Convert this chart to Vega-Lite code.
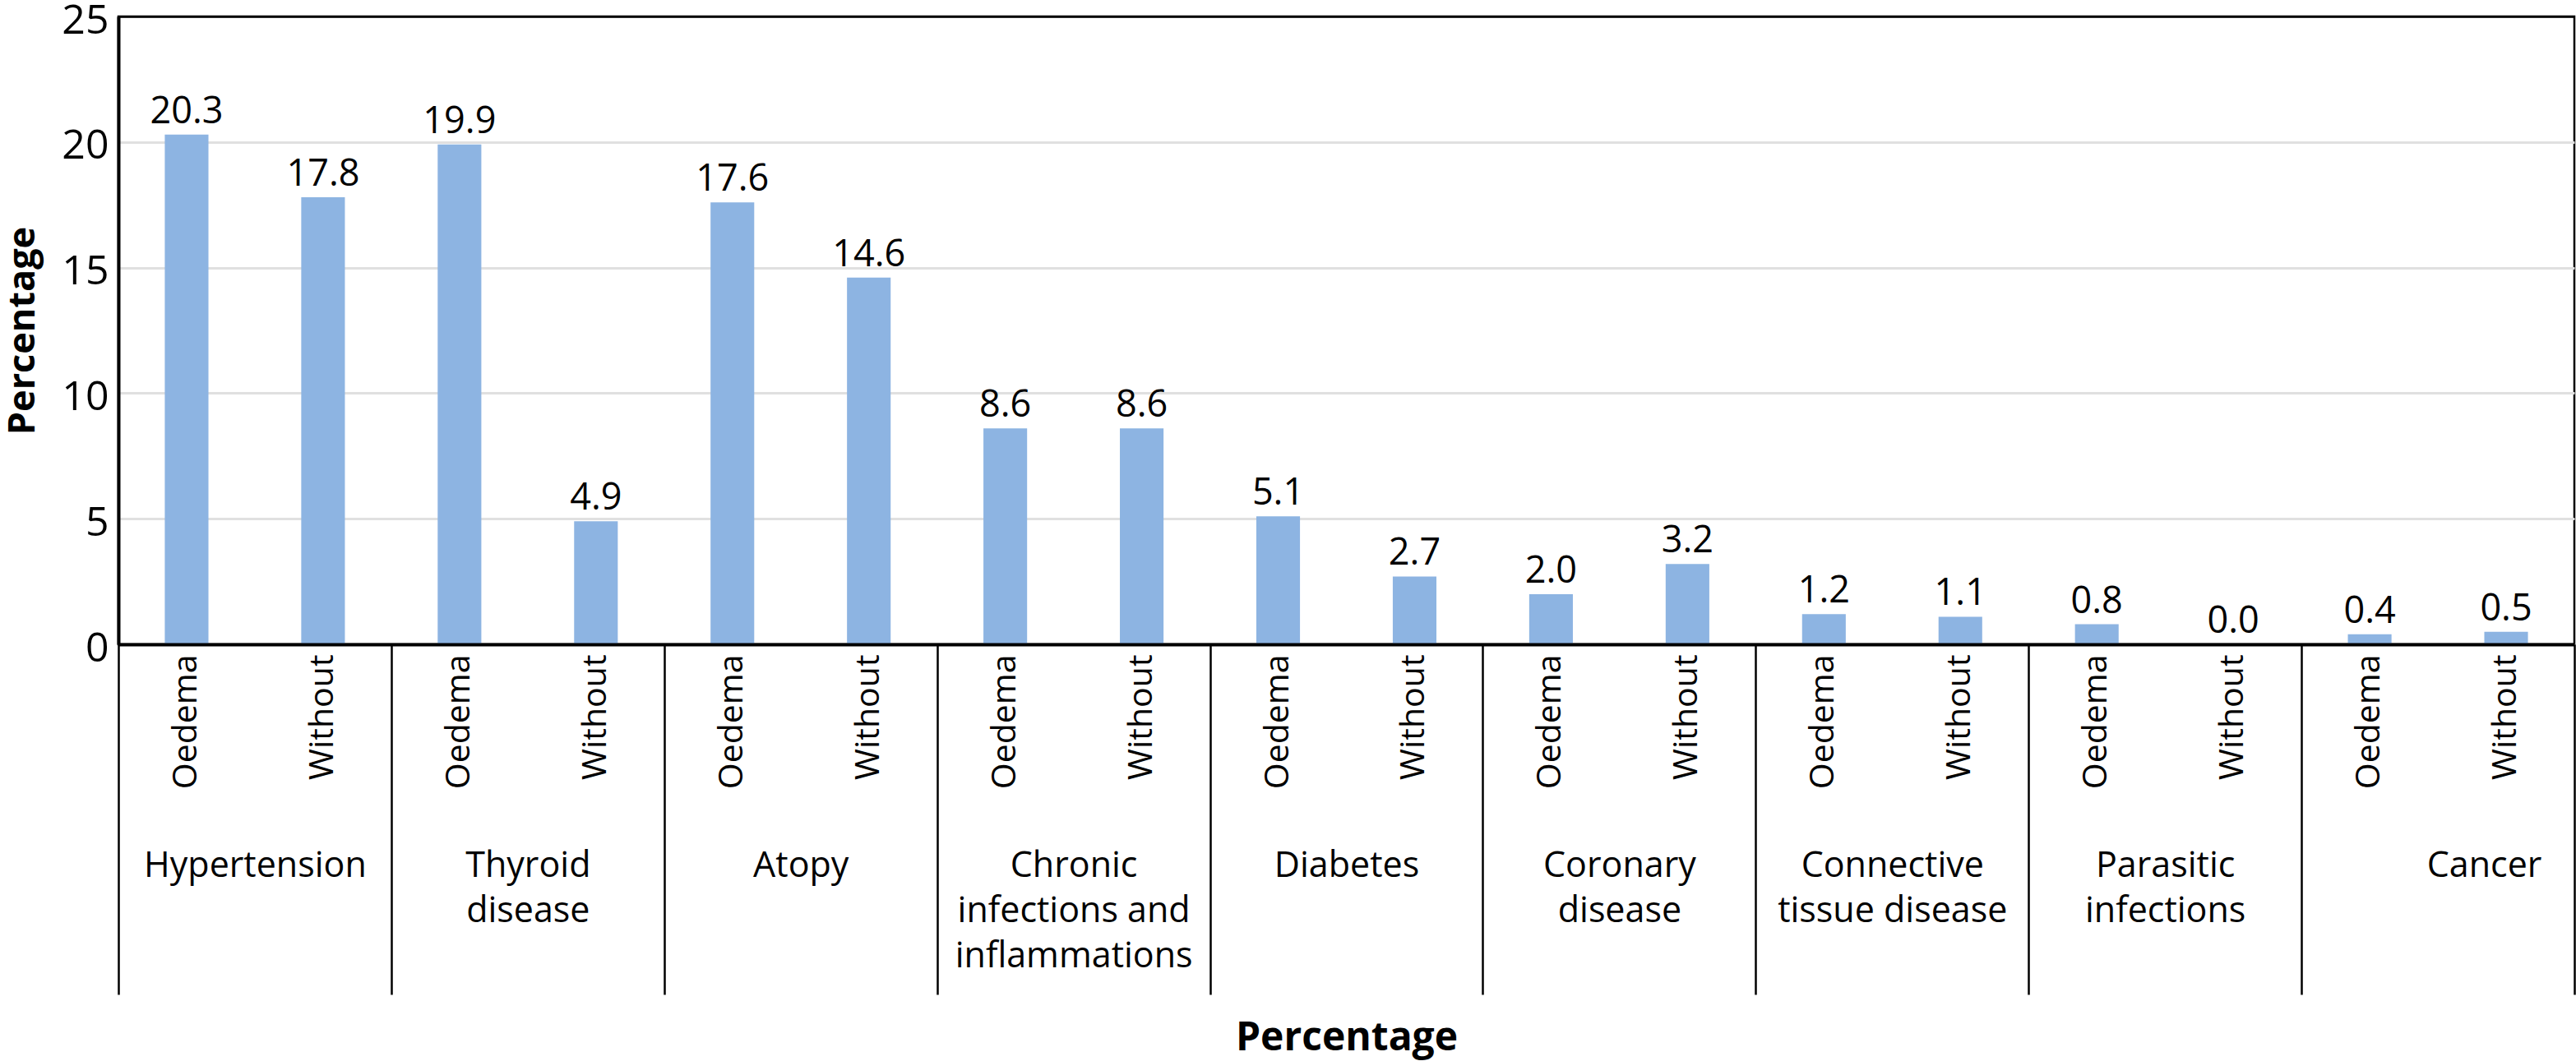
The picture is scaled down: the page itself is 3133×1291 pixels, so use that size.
{
  "$schema": "https://vega.github.io/schema/vega-lite/v6.json",
  "width": 2987,
  "height": 764,
  "autosize": {"type": "none"},
  "padding": {"left": 144, "top": 20, "right": 2, "bottom": 507},
  "background": "white",
  "config": {
    "font": "Open Sans",
    "view": {"stroke": "black", "strokeWidth": 2.5}
  },
  "data": {
    "values": [
      {"group": "Hypertension", "status": "Oedema", "slot": "Hypertension|Oedema", "value": 20.3},
      {"group": "Hypertension", "status": "Without", "slot": "Hypertension|Without", "value": 17.8},
      {"group": "Thyroid disease", "status": "Oedema", "slot": "Thyroid disease|Oedema", "value": 19.9},
      {"group": "Thyroid disease", "status": "Without", "slot": "Thyroid disease|Without", "value": 4.9},
      {"group": "Atopy", "status": "Oedema", "slot": "Atopy|Oedema", "value": 17.6},
      {"group": "Atopy", "status": "Without", "slot": "Atopy|Without", "value": 14.6},
      {"group": "Chronic infections and inflammations", "status": "Oedema", "slot": "Chronic infections and inflammations|Oedema", "value": 8.6},
      {"group": "Chronic infections and inflammations", "status": "Without", "slot": "Chronic infections and inflammations|Without", "value": 8.6},
      {"group": "Diabetes", "status": "Oedema", "slot": "Diabetes|Oedema", "value": 5.1},
      {"group": "Diabetes", "status": "Without", "slot": "Diabetes|Without", "value": 2.7},
      {"group": "Coronary disease", "status": "Oedema", "slot": "Coronary disease|Oedema", "value": 2.0},
      {"group": "Coronary disease", "status": "Without", "slot": "Coronary disease|Without", "value": 3.2},
      {"group": "Connective tissue disease", "status": "Oedema", "slot": "Connective tissue disease|Oedema", "value": 1.2},
      {"group": "Connective tissue disease", "status": "Without", "slot": "Connective tissue disease|Without", "value": 1.1},
      {"group": "Parasitic infections", "status": "Oedema", "slot": "Parasitic infections|Oedema", "value": 0.8},
      {"group": "Parasitic infections", "status": "Without", "slot": "Parasitic infections|Without", "value": 0.0},
      {"group": "Cancer", "status": "Oedema", "slot": "Cancer|Oedema", "value": 0.4},
      {"group": "Cancer", "status": "Without", "slot": "Cancer|Without", "value": 0.5}
    ]
  },
  "layer": [
    {
      "encoding": {
        "x": {
          "field": "slot",
          "type": "nominal",
          "sort": null,
          "scale": {"paddingInner": 0.68, "paddingOuter": 0.34},
          "axis": {
            "orient": "bottom",
            "title": null,
            "labelExpr": "split(datum.label, '|')[1]",
            "labelAngle": -90,
            "labelAlign": "right",
            "labelBaseline": "middle",
            "labelPadding": 12,
            "labelFontSize": 41,
            "labelColor": "black",
            "labelLimit": 400,
            "labelOverlap": false,
            "ticks": false,
            "domain": true,
            "domainColor": "black",
            "domainWidth": 4,
            "grid": false,
            "zindex": 2
          }
        },
        "y": {
          "field": "value",
          "type": "quantitative",
          "scale": {"domain": [0, 25], "nice": false},
          "axis": {
            "title": "Percentage",
            "titleFontSize": 45,
            "titleFontWeight": "bold",
            "titleColor": "black",
            "titlePadding": 24,
            "values": [0, 5, 10, 15, 20, 25],
            "labelFontSize": 50,
            "labelColor": "black",
            "labelPadding": 12,
            "labelOffset": 5,
            "ticks": false,
            "domainColor": "black",
            "domainWidth": 4,
            "grid": true,
            "gridColor": {"condition": {"test": "datum.value === 25", "value": "black"}, "value": "#e0e0e0"},
            "gridWidth": {"condition": {"test": "datum.value === 25", "value": 2.5}, "value": 3},
            "zindex": 0
          }
        }
      },
      "layer": [
        {"mark": {"type": "bar", "color": "#8db4e2"}},
        {
          "mark": {"type": "text", "baseline": "bottom", "dy": -5, "fontSize": 45, "color": "black"},
          "encoding": {"text": {"field": "value", "type": "quantitative", "format": ".1f"}}
        }
      ]
    },
    {
      "mark": {"type": "point", "opacity": 0},
      "encoding": {
        "x": {
          "field": "group",
          "type": "nominal",
          "sort": null,
          "scale": {"paddingInner": 0, "paddingOuter": 0},
          "axis": {
            "orient": "bottom",
            "offset": 0,
            "title": "Percentage",
            "titleFontSize": 48,
            "titleFontWeight": "bold",
            "titleColor": "black",
            "titleBaseline": "alphabetic",
            "titleY": 493,
            "domain": false,
            "grid": false,
            "ticks": true,
            "tickBand": "extent",
            "tickSize": 426,
            "tickWidth": 2.5,
            "tickColor": "black",
            "labelAngle": 0,
            "labelAlign": "center",
            "labelBaseline": "top",
            "labelPadding": -178,
            "labelFontSize": 43,
            "labelLineHeight": 55,
            "labelColor": "black",
            "labelLimit": 600,
            "labelOverlap": false,
            "labelOffset": {"condition": {"test": "datum.value === 'Cancer'", "value": 56}, "value": 0},
            "labelExpr": "datum.label === 'Thyroid disease' ? ['Thyroid', 'disease'] : datum.label === 'Chronic infections and inflammations' ? ['Chronic', 'infections and', 'inflammations'] : datum.label === 'Coronary disease' ? ['Coronary', 'disease'] : datum.label === 'Connective tissue disease' ? ['Connective', 'tissue disease'] : datum.label === 'Parasitic infections' ? ['Parasitic', 'infections'] : datum.label"
          }
        }
      }
    }
  ],
  "resolve": {"scale": {"x": "independent"}}
}
